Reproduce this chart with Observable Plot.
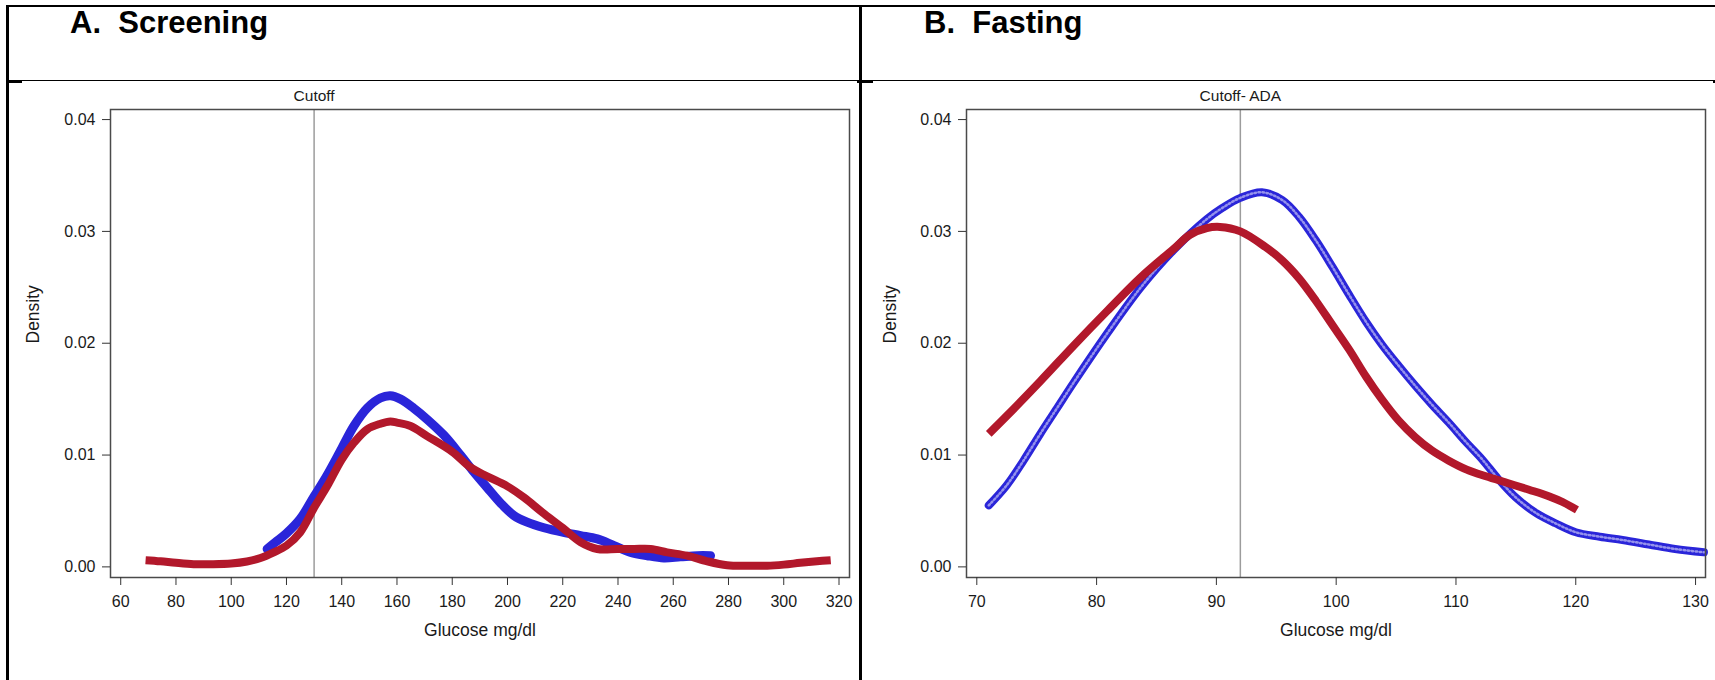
<!DOCTYPE html>
<html>
<head>
<meta charset="utf-8">
<script src="https://cdn.jsdelivr.net/npm/d3@7"></script>
<script src="https://cdn.jsdelivr.net/npm/@observablehq/plot@0.6"></script>
<style>
  html, body { margin: 0; padding: 0; background: #fff; }
  #page { position: relative; width: 1715px; height: 680px; background: #fff; overflow: hidden;
          font-family: "Liberation Sans", Arial, sans-serif; }
  .ln { position: absolute; background: #000; z-index: 5; }
  .title { position: absolute; font-weight: bold; font-size: 31px; line-height: 31px; white-space: pre; color: #000; }
  .panel { position: absolute; top: 80px; }
</style>
</head>
<body>
<div id="page">
  <div class="ln" style="left:6px;top:5px;width:1709px;height:2px"></div>
  <div class="ln" style="left:6px;top:5px;width:3px;height:675px"></div>
  <div class="ln" style="left:859px;top:5px;width:3px;height:675px"></div>
  <div class="ln" style="left:6px;top:80px;width:1709px;height:1px"></div>
  <div class="ln" style="left:9px;top:80px;width:13px;height:3px"></div>
  <div class="ln" style="left:857px;top:80px;width:16px;height:3px"></div>
  <div class="ln" style="left:1713px;top:80px;width:2px;height:3px"></div>
  <div class="title" id="titleA" style="left:70px;top:7px"></div>
  <div class="title" id="titleB" style="left:924px;top:7px"></div>
  <div class="panel" id="left" style="left:0px;width:860px"></div>
  <div class="panel" id="right" style="left:862px;width:853px"></div>
</div>
<script>
// ---- Data ----
const panelTitles = ["A.  Screening", "B.  Fasting"];
const xLabel = "Glucose mg/dl";
const yLabel = "Density";
const yTicks = [0, 0.01, 0.02, 0.03, 0.04];

// Panel A: Screening
const screenXTicks = [60, 80, 100, 120, 140, 160, 180, 200, 220, 240, 260, 280, 300, 320];
const screenCutoff = 130;
const screenCutoffLabel = "Cutoff";
const screenBlueX = [113, 116, 120, 125, 130, 134.7, 140, 144.4, 149.2, 154, 157.6, 161.3, 166, 170.9, 176.9, 183, 187.8, 192.6, 197.5, 202.3, 207.1, 213.2, 219.9, 226.5, 232.5, 238.6, 244.6, 250.6, 256.6, 262.6, 268.7, 273.5];
const screenBlueY = [0.0016, 0.0022, 0.0030, 0.0043, 0.0063, 0.0082, 0.0106, 0.0126, 0.0142, 0.0151, 0.0153, 0.0150, 0.0142, 0.0132, 0.0118, 0.0100, 0.0085, 0.0071, 0.0057, 0.0046, 0.0040, 0.0035, 0.0031, 0.0028, 0.0025, 0.0019, 0.0013, 0.0010, 0.0008, 0.0009, 0.0010, 0.0010];
const screenRedX = [69, 74.4, 80, 86.4, 92.5, 100, 105.7, 110.6, 115.4, 120, 125, 130, 134.7, 140, 144.4, 149.2, 154, 157.6, 160, 164.9, 170.9, 180, 186.6, 192.6, 200, 206, 212.5, 219.9, 226.5, 232.5, 239.8, 245.8, 251.8, 257.8, 265, 272.3, 279.5, 286.7, 294, 300, 306, 312, 317];
const screenRedY = [0.0006, 0.0005, 0.00036, 0.00024, 0.00024, 0.0003, 0.00048, 0.0008, 0.0013, 0.0019, 0.0031, 0.0053, 0.0072, 0.0096, 0.0111, 0.0123, 0.0128, 0.0130, 0.0129, 0.0126, 0.0117, 0.0103, 0.0089, 0.0081, 0.0072, 0.0062, 0.0049, 0.0035, 0.0022, 0.0016, 0.0016, 0.0016, 0.0016, 0.0013, 0.0010, 0.0005, 0.00015, 0.0001, 0.0001, 0.0002, 0.00036, 0.0005, 0.0006];

// Panel B: Fasting
const fastXTicks = [70, 80, 90, 100, 110, 120, 130];
const fastCutoff = 92;
const fastCutoffLabel = "Cutoff- ADA";
const fastBlueX = [71, 72.5, 73.9, 75.3, 76.7, 78.1, 80.9, 83.7, 86.4, 89.2, 90.5, 92.0, 93.8, 95.5, 96.9, 98.3, 99.7, 101.1, 102.5, 103.8, 105.2, 106.6, 108.0, 109.4, 110.8, 112.2, 113.5, 115.0, 116.7, 118.3, 120.0, 122.0, 123.9, 126.1, 128.3, 130.7];
const fastBlueY = [0.0055, 0.0073, 0.0095, 0.0119, 0.0142, 0.0165, 0.0209, 0.0250, 0.0283, 0.0311, 0.0321, 0.0330, 0.0335, 0.0328, 0.0313, 0.0292, 0.0268, 0.0243, 0.0219, 0.0199, 0.0180, 0.0162, 0.0145, 0.0129, 0.0112, 0.0096, 0.0079, 0.0062, 0.0048, 0.0039, 0.0031, 0.0027, 0.0024, 0.0020, 0.0016, 0.0013];
const fastRedX = [71, 72.5, 75.3, 78.1, 80.9, 83.7, 86.4, 87.8, 89.2, 90.3, 92.0, 94.1, 95.5, 96.9, 98.3, 99.7, 101.1, 102.5, 103.8, 105.2, 106.6, 108.0, 109.4, 110.9, 112.5, 114.3, 116.1, 117.8, 118.9, 120.1];
const fastRedY = [0.0119, 0.0135, 0.0166, 0.0198, 0.0229, 0.0259, 0.0284, 0.0297, 0.0303, 0.0304, 0.0300, 0.0286, 0.0274, 0.0258, 0.0238, 0.0216, 0.0194, 0.0170, 0.0150, 0.0131, 0.0116, 0.0104, 0.0095, 0.0087, 0.0081, 0.0075, 0.0069, 0.0063, 0.0058, 0.0051];

const BLUE = "#2A25D9";
const RED = "#B2182B";
const FONT = "'Liberation Sans', Arial, sans-serif";

document.getElementById("titleA").textContent = panelTitles[0];
document.getElementById("titleB").textContent = panelTitles[1];

const rows = (xs, ys) => xs.map((x, i) => ({x, y: ys[i]}));

function panel(o) {
  const blue = rows(o.blueX, o.blueY);
  const red = rows(o.redX, o.redY);
  return Plot.plot({
    width: o.width,
    height: 600,
    marginLeft: o.marginLeft,
    marginRight: o.marginRight,
    marginTop: 29,
    marginBottom: 103,
    x: {domain: o.xDomain, label: null},
    y: {domain: [-0.00095, 0.0409], label: null},
    style: {fontFamily: FONT, fontSize: "16px", color: "#1a1a1a", background: "transparent", overflow: "visible"},
    marks: [
      Plot.ruleX([o.cutoff], {stroke: "#9c9c9c", strokeWidth: 1.5}),
      Plot.line(blue, {x: "x", y: "y", stroke: BLUE, strokeWidth: o.blueWidth, curve: "catmull-rom", strokeLinecap: "round"}),
      o.rings ? Plot.line(blue, {x: "x", y: "y", stroke: "#ffffff", strokeOpacity: 0.5, strokeWidth: 2.5, strokeDasharray: "1.5 2.5", curve: "catmull-rom"}) : null,
      Plot.line(red, {x: "x", y: "y", stroke: RED, strokeWidth: 8, curve: "catmull-rom", strokeLinecap: "butt"}),
      Plot.frame({stroke: "#4a4a4a", strokeWidth: 1.5}),
      Plot.axisX({ticks: o.xTicks, tickSize: 8, tickPadding: 10, tickFormat: d => String(d), label: null, stroke: "#333", fontSize: 16}),
      Plot.axisY({ticks: yTicks, tickSize: 8, tickPadding: 7, tickFormat: d3.format(".2f"), label: null, stroke: "#333", fontSize: 16}),
      Plot.text([{x: o.cutoff, t: o.cutoffLabel}], {x: "x", text: "t", frameAnchor: "top", lineAnchor: "middle", dy: -13, fontSize: 15.5, fill: "#1a1a1a"}),
      Plot.text([xLabel], {frameAnchor: "bottom", lineAnchor: "middle", dy: 53, fontSize: 17.5, fill: "#1a1a1a"}),
      Plot.text([yLabel], {frameAnchor: "left", lineAnchor: "middle", dx: o.yLabelDx, rotate: -90, fontSize: 17.5, fill: "#1a1a1a"})
    ]
  });
}

document.getElementById("left").append(panel({
  width: 860, marginLeft: 110, marginRight: 11,
  xDomain: [56.3, 323.8], xTicks: screenXTicks,
  cutoff: screenCutoff, cutoffLabel: screenCutoffLabel,
  blueX: screenBlueX, blueY: screenBlueY, redX: screenRedX, redY: screenRedY,
  yLabelDx: -77, rings: false, blueWidth: 9
}));
document.getElementById("right").append(panel({
  width: 853, marginLeft: 104, marginRight: 10,
  xDomain: [69.14, 130.83], xTicks: fastXTicks,
  cutoff: fastCutoff, cutoffLabel: fastCutoffLabel,
  blueX: fastBlueX, blueY: fastBlueY, redX: fastRedX, redY: fastRedY,
  yLabelDx: -76, rings: true, blueWidth: 8
}));
</script>
</body>
</html>
